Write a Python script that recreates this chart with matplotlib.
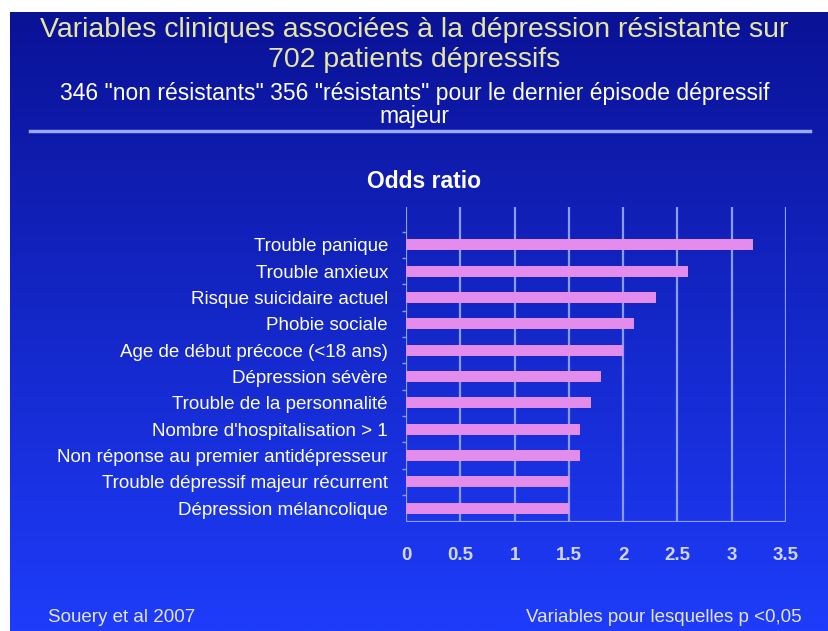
import numpy as np
import matplotlib

matplotlib.use("Agg")
import matplotlib.pyplot as plt

# données (odds ratio)
categories = [
    "Trouble panique",
    "Trouble anxieux",
    "Risque suicidaire actuel",
    "Phobie sociale",
    "Age de début précoce (<18 ans)",
    "Dépression sévère",
    "Trouble de la personnalité",
    "Nombre d'hospitalisation > 1",
    "Non réponse au premier antidépresseur",
    "Trouble dépressif majeur récurrent",
    "Dépression mélancolique",
]
odds_ratio = [3.2, 2.6, 2.3, 2.1, 2.0, 1.8, 1.7, 1.6, 1.6, 1.5, 1.5]
xticks = [0, 0.5, 1, 1.5, 2, 2.5, 3, 3.5]
xtick_labels = ["0", "0.5", "1", "1.5", "2", "2.5", "3", "3.5"]

title = "Variables cliniques associées à la dépression résistante sur\n702 patients dépressifs"
subtitle = "346 \"non résistants\" 356 \"résistants\" pour le dernier épisode dépressif\nmajeur"
source = "Souery et al 2007"
note = "Variables pour lesquelles p <0,05"

plt.rcParams["font.family"] = ["Liberation Sans", "DejaVu Sans"]

W, H = 829, 631
fig = plt.figure(figsize=(W / 100, H / 100), dpi=100)
fig.patch.set_facecolor("white")

# fond dégradé bleu (marge blanche en haut et à gauche)
bg = fig.add_axes([10 / W, 0, 1 - 10 / W, 1 - 12 / H], zorder=0)
top = np.array([10, 18, 150]) / 255
bottom = np.array([30, 60, 250]) / 255
t = np.linspace(0, 1, 256)[:, None]
grad = top[None, :] * (1 - t) + bottom[None, :] * t
bg.imshow(grad[:, None, :], aspect="auto", extent=[0, 1, 0, 1])
bg.set_axis_off()

# titres
fig.text(0.5, 1 - 45 / H, title, ha="center", va="center", fontsize=20.5,
         color="#e6e6a0", linespacing=1.18)
fig.text(0.5, 1 - 105 / H, subtitle, ha="center", va="center", fontsize=16.5,
         color="white", linespacing=1.0)
fig.add_artist(plt.Line2D([30 / W, 810 / W], [1 - 131 / H, 1 - 131 / H],
                          color="#9aa8ff", lw=2.5))
fig.text(424 / W, 1 - 181 / H, "Odds ratio", ha="center", va="center",
         fontsize=16.5, fontweight="bold", color="white")

ax = fig.add_axes([406 / W, 1 - 522 / H, 380 / W, 315 / H], zorder=1)
ax.patch.set_alpha(0)

n = len(categories)
ypos = np.arange(n)[::-1]
ax.barh(ypos, odds_ratio, height=0.42, color="#e48cec", zorder=2)

ax.set_xlim(0, 3.5)
ax.set_ylim(-0.53, n - 1 + 1.44)
ax.set_xticks(xticks)
ax.set_xticklabels(xtick_labels)
ax.set_yticks(ypos)
ax.set_yticklabels(categories)
ax.set_yticks(np.arange(n) + 0.5, minor=True)

grid_col = "#8a9cff"
for x in xticks:
    ax.axvline(x, color=grid_col, lw=1.6, zorder=1)
ax.axhline(-0.53, color=grid_col, lw=1.6, zorder=1)

for spine in ax.spines.values():
    spine.set_visible(False)

ax.tick_params(axis="y", which="major", length=0, pad=13, labelsize=13.5,
               labelcolor="white")
ax.tick_params(axis="y", which="minor", length=3, color=grid_col, width=1)
ax.tick_params(axis="x", length=0, pad=18, labelsize=13.5, labelcolor="#d0d6ff")
for lbl in ax.get_xticklabels():
    lbl.set_fontweight("bold")

fig.text(48 / W, 1 - 618 / H, source, ha="left", va="center", fontsize=13.5,
         color="#e4e4f4")
fig.text(802 / W, 1 - 618 / H, note, ha="right", va="center", fontsize=13.5,
         color="#e4e4f4")

fig.savefig("out.png", dpi=100)
